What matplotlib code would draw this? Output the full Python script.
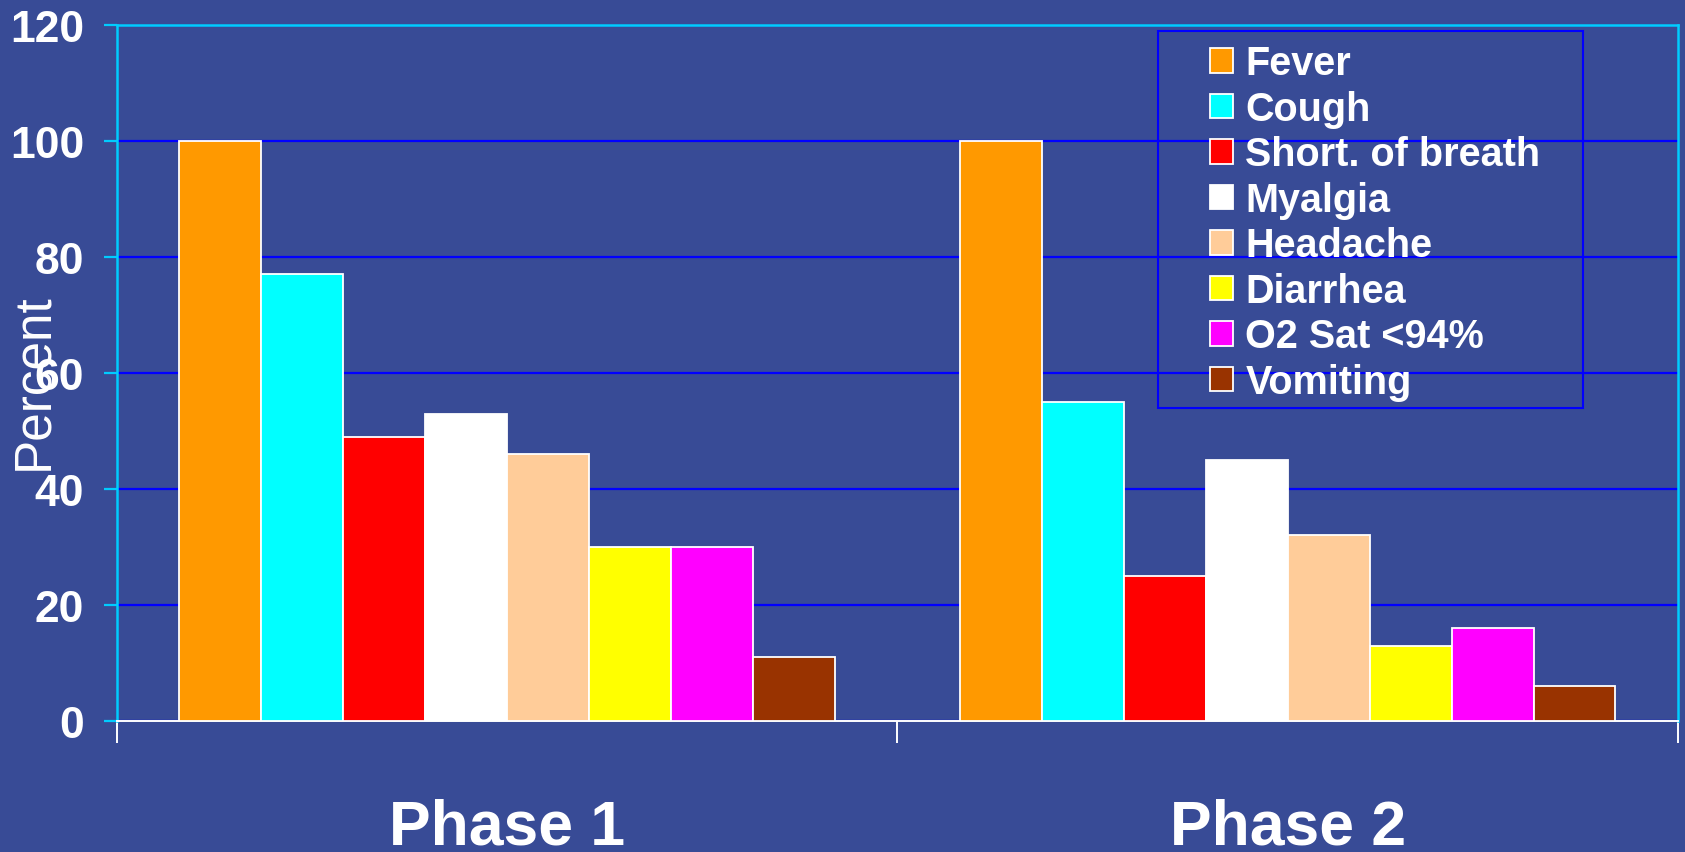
import matplotlib
matplotlib.use("Agg")
import matplotlib.pyplot as plt
from matplotlib.patches import Rectangle
import numpy as np

phases = ["Phase 1", "Phase 2"]
symptoms = ["Fever", "Cough", "Short. of breath", "Myalgia", "Headache",
            "Diarrhea", "O2 Sat <94%", "Vomiting"]
phase1 = [100, 77, 49, 53, 46, 30, 30, 11]
phase2 = [100, 55, 25, 45, 32, 13, 16, 6]
colors = ["#FF9900", "#00FFFF", "#FF0000", "#FFFFFF", "#FFCC99",
          "#FFFF00", "#FF00FF", "#993300"]
yticks = [0, 20, 40, 60, 80, 100, 120]

bg = "#384B96"
cyan = "#00CCFF"
plt.rcParams["font.family"] = ["Liberation Sans", "DejaVu Sans"]

fig = plt.figure(figsize=(16.85, 8.53), dpi=100, facecolor=bg)
ax = fig.add_axes([0.0694, 0.1536, 0.9264, 0.8159], facecolor=bg)

x = np.arange(len(phases))
w = 0.105
values = np.array([phase1, phase2])
for i, (name, col) in enumerate(zip(symptoms, colors)):
    ax.bar(x + (i - 3.5) * w, values[:, i], width=w, color=col,
           edgecolor="white", linewidth=1.3, label=name, zorder=3)

ax.set_xlim(-0.5, 1.5)
ax.set_ylim(0, 120)
ax.set_yticks(yticks)
ax.set_yticklabels([str(t) for t in yticks], fontsize=32, fontweight="bold",
                   color="white")
ax.yaxis.grid(True, color="#0000FF", linewidth=1.6, zorder=0)
ax.set_axisbelow(True)
ax.tick_params(axis="y", colors=cyan, length=9.5, width=1.6, pad=14,
               labelcolor="white")

# category boundaries get tick marks, names sit in between
ax.set_xticks([-0.5, 0.5, 1.5])
ax.set_xticklabels([])
ax.set_xticks(x, minor=True)
ax.set_xticklabels(phases, minor=True, fontsize=45, fontweight="bold",
                   color="white")
ax.tick_params(axis="x", which="major", colors="white", length=16, width=1.4)
ax.tick_params(axis="x", which="minor", length=0, pad=55)

for side in ["left", "right", "top"]:
    ax.spines[side].set_color(cyan)
    ax.spines[side].set_linewidth(1.8)
ax.spines["bottom"].set_color("white")
ax.spines["bottom"].set_linewidth(1.4)

fig.text(0.020, 0.553, "Percent", rotation=90, fontsize=37, color="white",
         ha="center", va="center")

leg = ax.legend(loc="upper left", bbox_to_anchor=(0.690, 0.995),
                frameon=False, handlelength=0.58, handleheight=0.58,
                handletextpad=0.32, labelspacing=0.19, borderaxespad=0,
                prop={"weight": "bold", "size": 28.5})
for t in leg.get_texts():
    t.set_color("white")
ax.add_patch(Rectangle((0.667, 0.450), 0.272, 0.541, transform=ax.transAxes,
                       facecolor="none", edgecolor="#0000FF", linewidth=1.5,
                       zorder=5, clip_on=False))

fig.savefig("out.png", dpi=100, facecolor=bg)
